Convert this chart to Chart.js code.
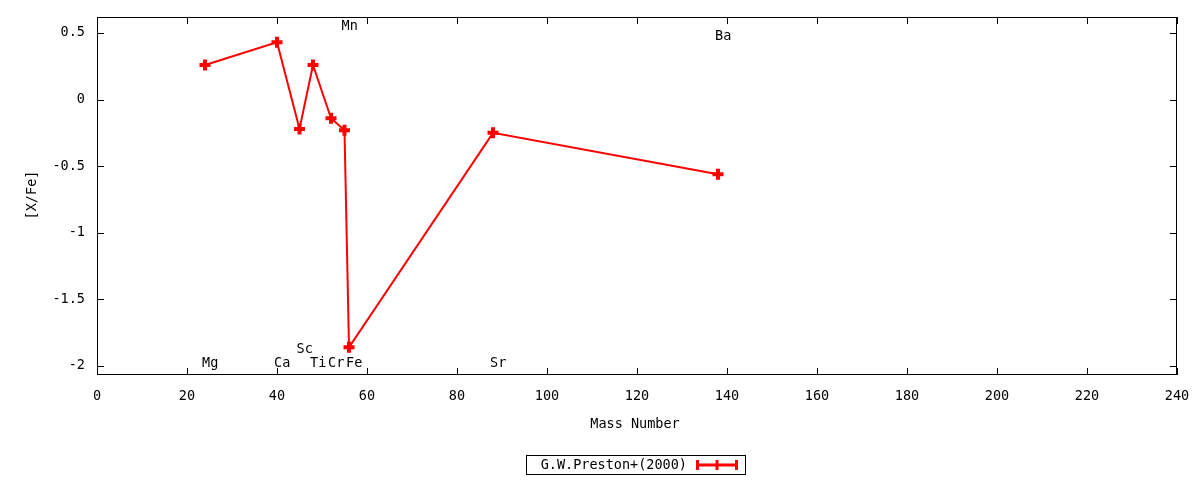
<!DOCTYPE html>
<html>
<head>
<meta charset="utf-8">
<script src="https://cdn.jsdelivr.net/npm/chart.js@4"></script>
<style>
  html, body { margin: 0; padding: 0; background: #fff; }
  #wrap { width: 1200px; height: 480px; }
</style>
</head>
<body>
<div id="wrap"><canvas id="chart"></canvas></div>
<script>
// data
const masses = [24, 40, 45, 48, 52, 55, 56, 88, 138];
const xfe = [0.26, 0.43, -0.22, 0.26, -0.14, -0.23, -1.86, -0.25, -0.56];
const elemNames = ["Mg", "Ca", "Sc", "Ti", "Cr", "Mn", "Fe", "Sr", "Ba"];
const labelY = [-1.98, -1.98, -1.88, -1.98, -1.98, 0.55, -1.98, -1.98, 0.47];
const xTicks = [0, 20, 40, 60, 80, 100, 120, 140, 160, 180, 200, 220, 240];
const yTicks = [-2, -1.5, -1, -0.5, 0, 0.5];
const seriesName = "G.W.Preston+(2000)";

const FONT = '"DejaVu Sans Mono", monospace';
const FS = 13.5;
const RED = "#ff0000";

/* =========================
   gnuplot-like frame, labels, legend
========================= */
const gnuFrame = {
  id: "gnuFrame",
  afterDatasetsDraw(c) {
    const { ctx, chartArea: a, scales } = c;
    const xs = scales.x, ys = scales.y;
    ctx.save();

    // frame
    ctx.strokeStyle = "#000";
    ctx.lineWidth = 1;
    ctx.strokeRect(a.left + 0.5, a.top + 0.5, a.right - a.left - 1, a.bottom - a.top - 1);

    // inward ticks on all sides
    ctx.beginPath();
    xTicks.forEach(v => {
      const px = Math.round(xs.getPixelForValue(v)) + 0.5;
      ctx.moveTo(px, a.bottom); ctx.lineTo(px, a.bottom - 7);
      ctx.moveTo(px, a.top); ctx.lineTo(px, a.top + 7);
    });
    yTicks.forEach(v => {
      const py = Math.round(ys.getPixelForValue(v)) + 0.5;
      ctx.moveTo(a.left, py); ctx.lineTo(a.left + 7, py);
      ctx.moveTo(a.right, py); ctx.lineTo(a.right - 7, py);
    });
    ctx.stroke();

    // element labels
    ctx.fillStyle = "#000";
    ctx.font = FS + "px " + FONT;
    ctx.textAlign = "left";
    ctx.textBaseline = "middle";
    elemNames.forEach((n, i) => {
      ctx.fillText(n, xs.getPixelForValue(masses[i]) - 3, ys.getPixelForValue(labelY[i]));
    });

    // axis titles
    ctx.textAlign = "center";
    ctx.fillText("Mass Number", (a.left + a.right) / 2 - 2, 424);
    ctx.save();
    ctx.translate(32, 195);
    ctx.rotate(-Math.PI / 2);
    ctx.fillText("[X/Fe]", 0, 0);
    ctx.restore();

    // legend box
    ctx.strokeRect(526.5, 455.5, 219, 19);
    ctx.textAlign = "right";
    ctx.fillText(seriesName, 687, 465);
    ctx.strokeStyle = RED;
    ctx.lineWidth = 3;
    ctx.beginPath();
    ctx.moveTo(697, 465); ctx.lineTo(737, 465);
    ctx.moveTo(697.5, 460); ctx.lineTo(697.5, 470);
    ctx.moveTo(736.5, 460); ctx.lineTo(736.5, 470);
    ctx.moveTo(717, 460); ctx.lineTo(717, 470);
    ctx.stroke();

    ctx.restore();
  }
};

const chart = new Chart(document.getElementById("chart"), {
  type: "line",
  data: {
    datasets: [{
      label: seriesName,
      data: masses.map((m, i) => ({ x: m, y: xfe[i] })),
      borderColor: RED,
      backgroundColor: RED,
      borderWidth: 2,
      pointStyle: "cross",
      pointRadius: 5.5,
      pointBorderWidth: 4,
      pointHoverRadius: 5.5,
      tension: 0,
    }],
  },
  options: {
    responsive: true,
    maintainAspectRatio: false,
    animation: false,
    events: [],
    layout: { padding: { left: 0, top: 17, right: 23, bottom: 0 } },
    plugins: {
      legend: { display: false },
      tooltip: { enabled: false },
    },
    scales: {
      x: {
        type: "linear",
        min: 0,
        max: 240,
        afterBuildTicks: s => { s.ticks = xTicks.map(v => ({ value: v })); },
        afterFit: s => { s.height = 105; },
        grid: { display: false },
        border: { display: false },
        ticks: {
          color: "#000",
          font: { family: FONT, size: FS },
          padding: 5,
          maxRotation: 0,
        },
      },
      y: {
        type: "linear",
        min: -2.068,
        max: 0.62,
        afterBuildTicks: s => { s.ticks = yTicks.map(v => ({ value: v })); },
        afterFit: s => { s.width = 97; },
        grid: { display: false },
        border: { display: false },
        ticks: {
          color: "#000",
          font: { family: FONT, size: FS },
          padding: 4,
          callback: v => String(v),
        },
      },
    },
  },
  plugins: [gnuFrame],
});
</script>
</body>
</html>
